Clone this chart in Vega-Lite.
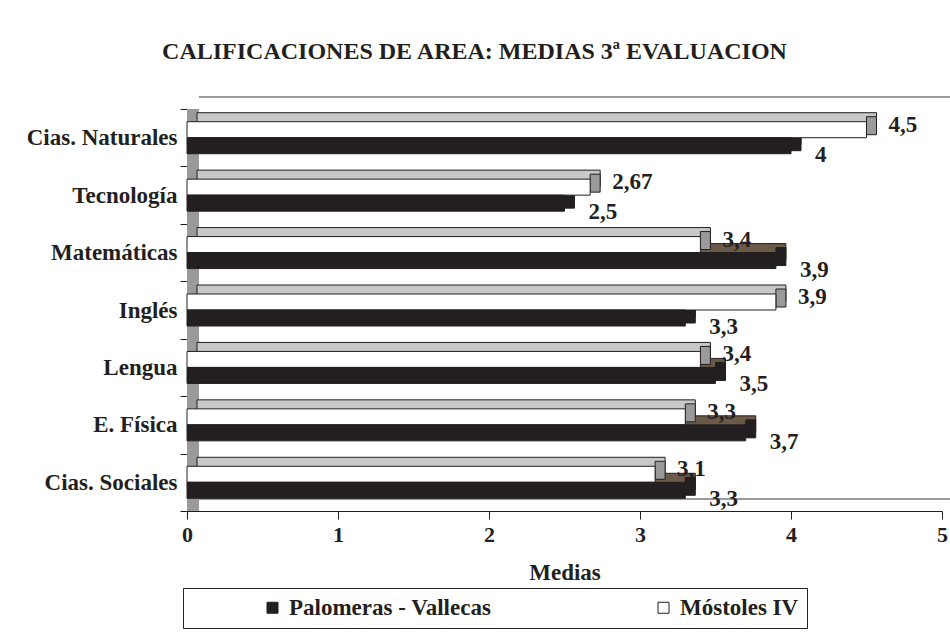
{
  "$schema": "https://vega.github.io/schema/vega-lite/v6.json",
  "width": 755,
  "height": 402,
  "autosize": "none",
  "padding": {"left": 187, "top": 109, "right": 8, "bottom": 125},
  "background": "white",
  "config": {
    "view": {"stroke": null},
    "locale": {"number": {"decimal": ",", "thousands": ".", "grouping": [3], "currency": ["", " €"]}},
    "font": "Liberation Serif",
    "axis": {"labelFont": "Liberation Serif", "labelFontWeight": "bold", "labelColor": "#231f20", "titleFont": "Liberation Serif", "titleFontWeight": "bold", "titleColor": "#231f20", "domainColor": "#231f20", "tickColor": "#231f20", "grid": false}
  },
  "title": {"text": "CALIFICACIONES DE AREA: MEDIAS 3ª EVALUACION", "font": "Liberation Serif", "fontSize": 24, "fontWeight": "bold", "color": "#231f20", "anchor": "middle", "dx": -90, "offset": 32},
  "data": {"values": [
    {"area": "Cias. Naturales", "serie": "Móstoles IV", "valor": 4.5},
    {"area": "Cias. Naturales", "serie": "Palomeras - Vallecas", "valor": 4},
    {"area": "Tecnología", "serie": "Móstoles IV", "valor": 2.67},
    {"area": "Tecnología", "serie": "Palomeras - Vallecas", "valor": 2.5},
    {"area": "Matemáticas", "serie": "Móstoles IV", "valor": 3.4},
    {"area": "Matemáticas", "serie": "Palomeras - Vallecas", "valor": 3.9},
    {"area": "Inglés", "serie": "Móstoles IV", "valor": 3.9},
    {"area": "Inglés", "serie": "Palomeras - Vallecas", "valor": 3.3},
    {"area": "Lengua", "serie": "Móstoles IV", "valor": 3.4},
    {"area": "Lengua", "serie": "Palomeras - Vallecas", "valor": 3.5},
    {"area": "E. Física", "serie": "Móstoles IV", "valor": 3.3},
    {"area": "E. Física", "serie": "Palomeras - Vallecas", "valor": 3.7},
    {"area": "Cias. Sociales", "serie": "Móstoles IV", "valor": 3.1},
    {"area": "Cias. Sociales", "serie": "Palomeras - Vallecas", "valor": 3.3}
  ]},
  "encoding": {
    "y": {"field": "area", "type": "nominal",
      "sort": ["Cias. Naturales", "Tecnología", "Matemáticas", "Inglés", "Lengua", "E. Física", "Cias. Sociales"],
      "scale": {"paddingInner": 0, "paddingOuter": 0},
      "axis": {"title": null, "tickBand": "extent", "tickSize": 7, "labelPadding": 3, "labelFontSize": 23, "domainColor": "#231f20"}},
    "x": {"field": "valor", "type": "quantitative",
      "scale": {"domain": [0, 5], "nice": false},
      "axis": {"title": "Medias", "values": [0, 1, 2, 3, 4, 5], "format": "d", "tickSize": 8, "labelPadding": 5, "labelFlush": false, "labelFontSize": 22, "titleFontSize": 23, "titlePadding": 16}}
  },
  "layer": [
    {"mark": {"type": "rect", "fill": "#9a9a9a", "x2Offset": 12},
     "encoding": {"x": {"datum": 0, "type": "quantitative"}, "x2": {"datum": 0}, "y": {"value": 0}, "y2": {"value": "height"}}},
    {"mark": {"type": "rule", "color": "#9a9a9a", "strokeWidth": 2, "xOffset": 12, "x2Offset": 12, "yOffset": -12},
     "encoding": {"x": {"datum": 0, "type": "quantitative"}, "x2": {"datum": 5}, "y": {"value": 0}}},
    {"mark": {"type": "rule", "color": "#9a9a9a", "strokeWidth": 2, "xOffset": 12, "x2Offset": 12, "yOffset": -12},
     "encoding": {"x": {"datum": 0, "type": "quantitative"}, "x2": {"datum": 5}, "y": {"value": "height"}}},
    {"transform": [{"filter": "datum.serie === 'Palomeras - Vallecas'"}],
     "mark": {"type": "bar", "height": 16, "yOffset": -1, "xOffset": 10, "x2Offset": 10, "fill": "#6b5a48", "stroke": "#231f20", "strokeWidth": 1},
     "encoding": {"x2": {"datum": 0}}},
    {"transform": [{"filter": "datum.serie === 'Palomeras - Vallecas'"}],
     "mark": {"type": "bar", "height": 18, "yOffset": 4, "xOffset": 10, "fill": "#231f20", "stroke": "#231f20", "strokeWidth": 1},
     "encoding": {"x2": {"field": "valor"}}},
    {"transform": [{"filter": "datum.serie === 'Móstoles IV'"}],
     "mark": {"type": "bar", "height": 16, "yOffset": -17, "xOffset": 10, "x2Offset": 10, "fill": "#c8c8c8", "stroke": "#231f20", "strokeWidth": 1},
     "encoding": {"x2": {"datum": 0}}},
    {"transform": [{"filter": "datum.serie === 'Móstoles IV'"}],
     "mark": {"type": "bar", "height": 18, "yOffset": -12, "xOffset": 10, "fill": "#9a9a9a", "stroke": "#231f20", "strokeWidth": 1},
     "encoding": {"x2": {"field": "valor"}}},
    {"transform": [{"filter": "datum.serie === 'Móstoles IV'"}],
     "mark": {"type": "bar", "height": 16, "yOffset": -8, "stroke": "#231f20", "strokeWidth": 1},
     "encoding": {"color": {"field": "serie", "type": "nominal",
        "scale": {"domain": ["Palomeras - Vallecas", "Móstoles IV"], "range": ["#231f20", "#ffffff"]},
        "legend": {"orient": "none", "legendX": -4, "legendY": 479, "direction": "horizontal", "title": null,
          "symbolType": "square", "symbolSize": 121, "symbolStrokeColor": "#231f20", "symbolStrokeWidth": 1,
          "labelFont": "Liberation Serif", "labelFontWeight": "bold", "labelFontSize": 23, "labelColor": "#231f20", "labelLimit": 500,
          "strokeColor": "#231f20", "fillColor": "white", "padding": 8, "symbolOffset": 70, "columnPadding": 90, "labelOffset": 5}}}},
    {"transform": [{"filter": "datum.serie === 'Palomeras - Vallecas'"}],
     "mark": {"type": "bar", "height": 16, "yOffset": 8, "stroke": "#231f20", "strokeWidth": 1},
     "encoding": {"color": {"field": "serie", "type": "nominal"}}},
    {"transform": [{"filter": "datum.serie === 'Móstoles IV'"}],
     "mark": {"type": "text", "align": "left", "baseline": "middle", "dx": 22, "yOffset": -13, "font": "Liberation Serif", "fontWeight": "bold", "fontSize": 23, "color": "#231f20"},
     "encoding": {"text": {"field": "valor", "type": "quantitative", "format": "~g"}}},
    {"transform": [{"filter": "datum.serie === 'Palomeras - Vallecas'"}],
     "mark": {"type": "text", "align": "left", "baseline": "middle", "dx": 24, "yOffset": 17, "font": "Liberation Serif", "fontWeight": "bold", "fontSize": 23, "color": "#231f20"},
     "encoding": {"text": {"field": "valor", "type": "quantitative", "format": "~g"}}}
  ]
}
